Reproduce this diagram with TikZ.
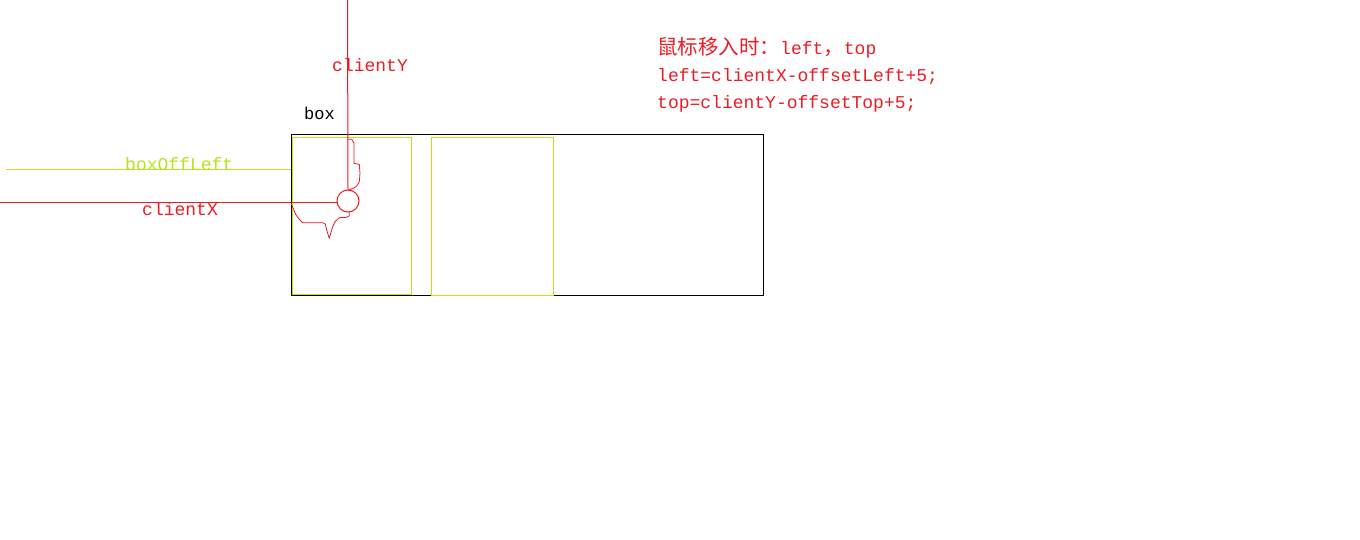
\documentclass[tikz,border=0pt]{standalone}
\usepackage{fontspec}
\setmonofont{Liberation Mono}
\newfontfamily\cjk{Noto Sans CJK SC}
\definecolor{pred}{HTML}{ED1C24}
\definecolor{plime}{HTML}{B5E61D}
\newcommand{\zh}[1]{{\cjk\fontsize{20.5}{20.5}\selectfont #1}}
\begin{document}
\begin{tikzpicture}[x=1pt,y=-1pt,
  lbl/.style={inner sep=0pt, anchor=base west, font=\ttfamily\fontsize{18}{18}\selectfont},
  redline/.style={pred, line width=1pt},
  limeline/.style={plime, line width=1pt}]
\useasboundingbox (0,0) rectangle (1360,540);
\fill[white] (0,0) rectangle (1360,540);
% outer box and inner boxes
\draw[line width=1pt] (291.5,134.5) rectangle (763.5,295);
\draw[limeline] (292,137.5) rectangle (411,294.5);
\draw[limeline] (431.5,137.5) rectangle (553.5,295);
% coordinates
\coordinate (yTop) at (347.5,0);
\coordinate (xLeft) at (0,202.5);
\coordinate (offL) at (6,169.5);
\coordinate (offR) at (291,169.5);
\node[circle, draw=pred, line width=1pt, minimum size=22pt, inner sep=0pt] (cur) at (348,201) {};
% lines
\draw[limeline] (offL) -- (offR);
\draw[redline] (yTop) -- (cur.north);
\draw[redline] (xLeft) -- (xLeft -| cur.west);
% hand-drawn cursor outline
\draw[pred, line width=0.8pt, line join=round]
  (347.7,139.3) -- (351.7,139.3) -- (354,143.3) -- (354,163.3) -- (359.3,164.3)
  -- (360,173.3) -- (359.3,181.7) -- (356.7,186) -- (353.3,188.3) -- (348.3,190);
\draw[pred, line width=0.8pt, line join=round]
  (349.3,211.5) -- (349.3,216) -- (346.7,217.3) -- (339.3,217.7) -- (335,221.7)
  -- (332.7,226.7) -- (329.3,238.3) -- (326.7,230) -- (325.3,224) -- (322.7,222.7)
  -- (302.7,222.7) -- (299.3,219.3) -- (296,215) -- (292.7,207.3) -- (291,203.3);
% labels
\node[lbl, text=pred] (cy) at (332,72) {clientY};
\node[lbl, font=\ttfamily\fontsize{17}{17}\selectfont] (box) at (304,120) {box};
\node[lbl, text=plime] (bol) at (125,171) {boxOffLeft};
\node[lbl, text=pred] (cx) at (142,216) {clientX};
\node[lbl, text=pred] (t1) at (657,55) {\zh{鼠标移入时：}left\zh{，}top};
\node[lbl, text=pred] (t2) at (657,82) {left=clientX-offsetLeft+5;};
\node[lbl, text=pred] (t3) at (657,109) {top=clientY-offsetTop+5;};
\end{tikzpicture}
\end{document}
